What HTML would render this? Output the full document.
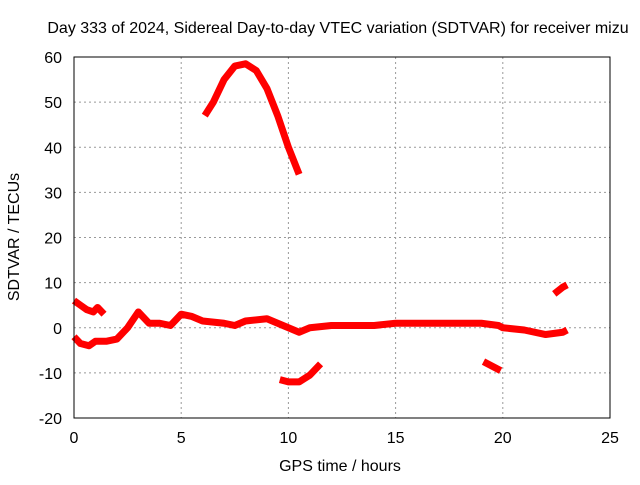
<!DOCTYPE html>
<html><head><meta charset="utf-8"><style>
body{margin:0;background:#fff;}
svg text{font-family:"Liberation Sans",sans-serif;font-size:16px;fill:#000;}
</style></head><body>
<svg id="chart" width="640" height="480" viewBox="0 0 640 480">
<rect width="640" height="480" fill="#fff"/>
<text x="338" y="33" text-anchor="middle">Day 333 of 2024, Sidereal Day-to-day VTEC variation (SDTVAR) for receiver mizu</text>
<text x="340" y="471" text-anchor="middle">GPS time / hours</text>
<text transform="translate(19,237) rotate(-90)" text-anchor="middle">SDTVAR / TECUs</text>
<g id="grid"></g><g id="ticks"></g><g id="series"></g>
<rect x="74" y="57" width="536" height="361" fill="none" stroke="#000" stroke-width="1"/>
</svg>
<script>
const xTicks=[0,5,10,15,20,25];
const yTicks=[-20,-10,0,10,20,30,40,50,60];
const segUpper=[[0,6],[0.3,5],[0.6,4],[0.9,3.5],[1.1,4.5],[1.4,3]];
const segMain=[[0,-2],[0.3,-3.5],[0.7,-4],[1,-3],[1.5,-3],[2,-2.5],[2.5,0],[3,3.5],[3.5,1],[4,1],[4.5,0.5],[5,3],[5.5,2.5],[6,1.5],[7,1],[7.5,0.5],[8,1.5],[9,2],[10,0],[10.5,-1],[11,0],[12,0.5],[13,0.5],[14,0.5],[15,1],[16,1],[17,1],[18,1],[19,1],[19.8,0.5],[20,0],[21,-0.5],[22,-1.5],[22.8,-1],[23,-0.5]];
const segPeak=[[6.1,47],[6.5,50],[7,55],[7.5,58],[8,58.5],[8.5,57],[9,53],[9.5,47],[10,40],[10.5,34]];
const segLow=[[9.6,-11.5],[10,-12],[10.5,-12],[11,-10.5],[11.5,-8]];
const segDip=[[19.1,-7.5],[19.5,-8.5],[19.9,-9.5]];
const segLate=[[22.4,7.5],[22.8,9],[23,9.5]];
const X=v=>74+v*536/25, Y=v=>418-(v+20)*361/80;
const NS="http://www.w3.org/2000/svg";
const g=document.getElementById('grid'),t=document.getElementById('ticks'),s=document.getElementById('series');
function mk(tag,a,p){const e=document.createElementNS(NS,tag);for(const k in a)e.setAttribute(k,a[k]);p.appendChild(e);return e;}
xTicks.forEach(v=>{
 if(v>0&&v<25){const l=mk('line',{x1:X(v),x2:X(v),y1:57,y2:418,stroke:'#999','stroke-dasharray':'2,3'},g);
 
 }
 const tx=mk('text',{x:X(v),y:443,'text-anchor':'middle'},t);tx.textContent=v;
 
 
});
yTicks.forEach(v=>{
 if(v>-20&&v<60){const l=mk('line',{x1:74,x2:610,y1:Y(v),y2:Y(v),stroke:'#999','stroke-dasharray':'2,3'},g);
 
 }
 const tx=mk('text',{x:62,y:Y(v)+6,'text-anchor':'end'},t);tx.textContent=v;
 
 
});
[segUpper,segMain,segPeak,segLow,segDip,segLate].forEach(seg=>{
 const p=mk('polyline',{points:seg.map(d=>X(d[0])+','+Y(d[1])).join(' '),fill:'none',stroke:'#f00','stroke-width':7,'stroke-linejoin':'round'},s);
 
 
});
</script>
</body></html>
